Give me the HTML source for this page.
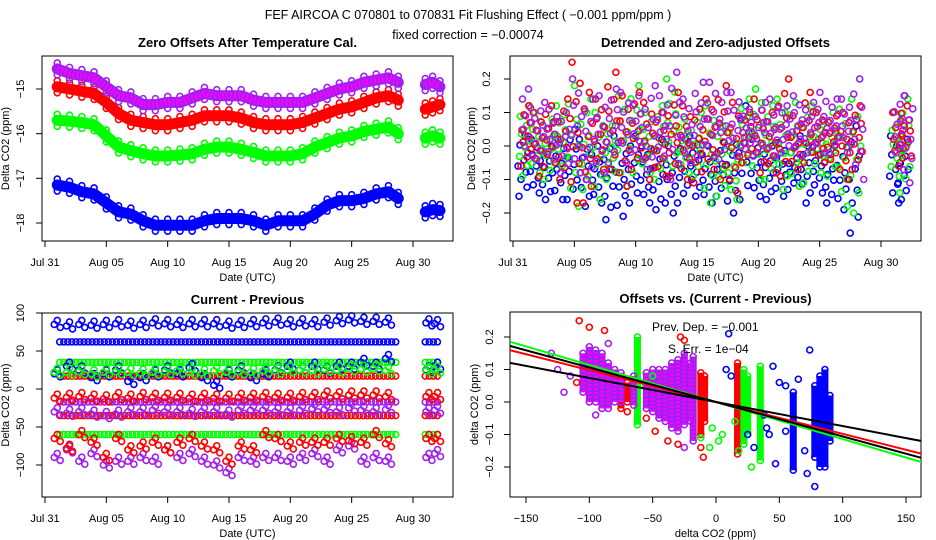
<!DOCTYPE html>
<html><head><meta charset="utf-8"><style>
html,body{margin:0;padding:0;background:#fff;}
svg{display:block;font-family:"Liberation Sans",sans-serif;}
.tl{font-size:11px;fill:#000;}
.pt{font-size:13px;font-weight:bold;fill:#000;}
</style></head><body>
<svg id="chart" width="936" height="540" viewBox="0 0 936 540" xmlns="http://www.w3.org/2000/svg">
<rect width="936" height="540" fill="#fff"/>
<text x="468" y="19" text-anchor="middle" font-size="12.5">FEF   AIRCOA C   070801 to 070831   Fit Flushing Effect ( −0.001 ppm/ppm )</text>
<text x="468" y="39" text-anchor="middle" font-size="12.5">fixed correction = −0.00074</text>
<g id="g1"></g>
<g id="g2"></g>
<g id="g3"></g>
<g id="g4"></g>
</svg>
<script>
// ---------- data ----------
const dateTicks = ["Jul 31","Aug 05","Aug 10","Aug 15","Aug 20","Aug 25","Aug 30"];
const dateTickDays = [0,5,10,15,20,25,30];
// Panel 1
const days1 = [1,2,3,4,5,6,7,8,9,10,11,12,13,14,15,16,17,18,19,20,21,22,23,24,25,26,27,28,28.8];
const daysGap1 = [31,31.6,32.2];
const purple1 = [-14.55,-14.65,-14.7,-14.75,-14.95,-15.15,-15.2,-15.35,-15.35,-15.3,-15.3,-15.2,-15.1,-15.15,-15.15,-15.15,-15.25,-15.3,-15.3,-15.3,-15.3,-15.2,-15.1,-15.0,-14.95,-14.85,-14.8,-14.75,-14.85];
const purple1b = [-14.9,-14.85,-14.95];
const red1 = [-14.95,-15.0,-15.05,-15.1,-15.3,-15.55,-15.7,-15.75,-15.8,-15.8,-15.75,-15.7,-15.6,-15.6,-15.6,-15.65,-15.75,-15.8,-15.8,-15.8,-15.75,-15.65,-15.55,-15.45,-15.4,-15.3,-15.2,-15.15,-15.25];
const red1b = [-15.45,-15.4,-15.35];
const green1 = [-15.7,-15.72,-15.75,-15.8,-16.05,-16.3,-16.38,-16.45,-16.5,-16.5,-16.48,-16.45,-16.35,-16.3,-16.3,-16.35,-16.42,-16.5,-16.5,-16.5,-16.45,-16.3,-16.2,-16.1,-16.05,-15.95,-15.9,-15.85,-16.0];
const green1b = [-16.1,-16.05,-16.1];
const blue1 = [-17.15,-17.2,-17.3,-17.35,-17.55,-17.75,-17.8,-17.95,-18.05,-18.05,-18.05,-18.05,-17.95,-17.9,-17.9,-17.9,-17.95,-18.05,-17.95,-17.95,-17.95,-17.8,-17.6,-17.5,-17.5,-17.45,-17.35,-17.3,-17.45];
const blue1b = [-17.75,-17.7,-17.72];
const yTicks1 = [-15,-16,-17,-18];
// Panel 2
const days2 = [1,2,3,4,5,6,7,8,9,10,11,12,13,14,15,16,17,18,19,20,21,22,23,24,25,26,27,28,31.3,32];
const blueHi2 = [0.03,0.02,0.0,0.02,0.05,0.02,0.0,0.03,0.01,0.03,0.0,0.02,0.0,0.02,0.03,0.0,0.01,0.04,0.12,0.02,0.0,0.01,0.0,0.03,0.02,0.0,0.03,0.06,0.03,0.02];
const blueLo2 = [-0.15,-0.14,-0.16,-0.16,-0.16,-0.18,-0.17,-0.22,-0.21,-0.17,-0.17,-0.19,-0.2,-0.17,-0.15,-0.17,-0.15,-0.2,-0.16,-0.15,-0.16,-0.15,-0.13,-0.17,-0.14,-0.17,-0.19,-0.26,-0.17,-0.16];
const greenHi2 = [0.12,0.1,0.08,0.12,0.18,0.14,0.1,0.06,0.15,0.18,0.1,0.12,0.2,0.08,0.1,0.12,0.06,0.04,0.14,0.17,0.12,0.14,0.13,0.12,0.1,0.1,0.11,0.2,0.1,0.14];
const greenLo2 = [-0.09,-0.08,-0.1,-0.06,-0.18,-0.13,-0.16,-0.1,-0.12,-0.08,-0.08,-0.1,-0.06,-0.08,-0.09,-0.17,-0.15,-0.16,-0.05,-0.1,-0.1,-0.13,-0.12,-0.11,-0.08,-0.09,-0.18,-0.2,-0.09,-0.14];
const redHi2 = [0.12,0.1,0.12,0.14,0.25,0.16,0.14,0.22,0.15,0.16,0.13,0.1,0.16,0.12,0.11,0.14,0.18,0.13,0.1,0.14,0.1,0.2,0.09,0.16,0.1,0.09,0.1,0.12,0.1,0.12];
const redLo2 = [-0.06,-0.09,-0.05,-0.1,-0.17,-0.17,-0.07,-0.07,-0.12,-0.07,-0.1,-0.09,-0.09,-0.1,-0.11,-0.07,-0.1,-0.14,-0.05,-0.08,-0.08,-0.09,-0.07,-0.05,-0.05,-0.04,-0.1,-0.07,-0.06,-0.03];
const purpleHi2 = [0.17,0.13,0.11,0.1,0.2,0.14,0.15,0.17,0.16,0.15,0.18,0.15,0.22,0.14,0.19,0.19,0.16,0.16,0.11,0.13,0.14,0.12,0.15,0.13,0.16,0.14,0.14,0.2,0.15,0.15];
const purpleLo2 = [-0.03,-0.04,-0.04,-0.08,-0.08,-0.1,-0.08,-0.05,-0.05,-0.04,-0.07,-0.03,-0.1,-0.05,-0.03,-0.03,-0.04,-0.03,-0.03,-0.02,-0.03,-0.02,-0.03,-0.02,-0.02,-0.02,-0.02,-0.1,-0.02,-0.11];
const yTicks2 = [0.2,0.1,0.0,-0.1,-0.2];
const yTickLabels2 = ["0.2","0.1","0.0","-0.1","-0.2"];
// Panel 3
const levelValues3 = [62,35,17,-17,-35,-60];
const levelColors3 = ["#0000ff","#00ff00","#ff0000","#a020f0","#ff0000","#00ff00"];
const blueTop3 = [85,83,85,84,85,86,84,85,87,86,85,86,86,86,84,85,86,87,88,86,87,86,88,90,91,89,89,88,87,86];
const blueMid3 = [20,30,25,15,20,25,10,15,20,25,20,28,15,5,20,25,15,20,25,30,25,30,25,30,30,35,30,40,25,30];
const greenMid3 = [22,22,23,20,22,23,22,21,22,23,24,22,21,24,22,23,22,24,24,25,25,24,26,25,27,26,27,24,24,25];
const redMid3 = [-12,-11,-10,-12,-13,-10,-12,-10,-11,-11,-11,-12,-11,-12,-12,-11,-11,-10,-11,-11,-10,-10,-8,-9,-8,-8,-8,-10,-10,-10];
const purpleMid3 = [-30,-32,-30,-33,-35,-33,-30,-30,-28,-30,-30,-32,-30,-30,-33,-28,-28,-28,-30,-30,-28,-26,-27,-30,-25,-28,-30,-27,-30,-28];
const redLow3 = [-65,-78,-60,-70,-90,-65,-80,-75,-70,-80,-70,-65,-75,-80,-95,-75,-80,-60,-65,-75,-70,-70,-70,-65,-68,-70,-60,-72,-65,-65];
const purpleLow3 = [-90,-80,-95,-85,-100,-95,-95,-90,-95,-80,-90,-85,-95,-100,-110,-90,-95,-90,-90,-95,-90,-85,-95,-80,-75,-95,-90,-95,-90,-85];
const yTicks3 = [100,50,0,-50,-100];
// Panel 4
const xTicks4 = [-150,-100,-50,0,50,100,150];
const yTicks4 = [0.2,0.1,0.0,-0.1,-0.2];
const barX4 = [-75,-70,-62,-12,-9,-18,17,22,25,35,61,78,82,86,90,-105,-100,-95,-90,-85,-80,-75,-65,-55,-50,-45,-40,-35,-30,-25,-20];
const barLo4 = [-0.02,0.0,-0.07,-0.1,-0.06,-0.12,-0.16,-0.13,-0.1,-0.18,-0.21,-0.17,-0.2,-0.2,-0.12,0.03,0.0,0.0,-0.02,-0.02,0.0,0.0,-0.01,-0.02,-0.03,-0.05,-0.06,-0.08,-0.09,-0.07,-0.06];
const barHi4 = [0.07,0.06,0.2,0.09,0.08,0.14,0.12,0.1,0.08,0.11,0.03,0.05,0.08,0.1,0.02,0.15,0.17,0.16,0.15,0.12,0.1,0.09,0.08,0.09,0.1,0.1,0.1,0.12,0.13,0.15,0.12];
const barColor4 = ["#ff0000","#ff0000","#00ff00","#ff0000","#ff0000","#a020f0","#ff0000","#00ff00","#00ff00","#00ff00","#0000ff","#0000ff","#0000ff","#0000ff","#0000ff","#a020f0","#a020f0","#a020f0","#a020f0","#a020f0","#a020f0","#a020f0","#a020f0","#a020f0","#a020f0","#a020f0","#a020f0","#a020f0","#a020f0","#a020f0","#a020f0"];
const ptX4 = [8,12,25,30,40,45,50,47,55,65,70,72,74,78,10,5,38,42,15,55,-108,-100,-88,-70,-48,-38,-25,-12,-10,-12,-5,2,-3,-130,-125,-120,-115,-110,-105,-60,-55,-50,-45,-30,-25,-85,-95,-28,18,28];
const ptY4 = [0.1,0.08,-0.1,-0.14,-0.08,0.11,0.06,-0.19,0.05,0.07,-0.15,-0.22,0.16,-0.26,0.21,-0.1,-0.04,-0.1,-0.06,-0.09,0.25,0.23,0.22,-0.03,-0.09,-0.12,0.19,-0.14,-0.17,-0.11,-0.14,-0.12,-0.08,0.15,0.1,0.03,0.08,0.06,0.1,0.05,-0.05,0.08,-0.04,-0.13,-0.14,0.18,-0.04,0.2,-0.15,-0.2];
const ptC4 = ["#0000ff","#0000ff","#0000ff","#0000ff","#0000ff","#0000ff","#0000ff","#0000ff","#0000ff","#0000ff","#0000ff","#0000ff","#0000ff","#0000ff","#0000ff","#00ff00","#0000ff","#0000ff","#00ff00","#0000ff","#ff0000","#ff0000","#ff0000","#ff0000","#ff0000","#ff0000","#ff0000","#ff0000","#ff0000","#00ff00","#00ff00","#00ff00","#00ff00","#a020f0","#a020f0","#a020f0","#a020f0","#ff0000","#a020f0","#00ff00","#ff0000","#00ff00","#a020f0","#ff0000","#a020f0","#a020f0","#a020f0","#ff0000","#00ff00","#00ff00"];
const fitIntercept4 = [0.0,0.0,0.0,0.0];
const fitSlope4 = [-0.00114,-0.00098,-0.00106,-0.00074];
const fitColor4 = ["#00ff00","#ff0000","#000000","#000000"];

// ---------- helpers ----------
const NS = "http://www.w3.org/2000/svg";
function mk(parent, tag, attrs) {
  const e = document.createElementNS(NS, tag);
  for (const k in attrs) e.setAttribute(k, attrs[k]);
  parent.appendChild(e);
  return e;
}
function lin(d0, d1, r0, r1) { return v => r0 + (v - d0) * (r1 - r0) / (d1 - d0); }
function circ(g, x, y, c) {
  const e = mk(g, "circle", {cx: x, cy: y, r: 3, fill: "none", stroke: c, "stroke-width": 1.6});
  
  
}
function frame(g, box, title, xlab, ylab, yTicks, yLabels, sy, xTicks, xLabels, sx, ylx) {
  const [L, T, R, B] = box;
  const r = mk(g, "rect", {x: L, y: T, width: R - L, height: B - T, fill: "none", stroke: "#000", "stroke-width": 1});
  
  
  const t = mk(g, "text", {x: (L + R) / 2, y: T - 9, "text-anchor": "middle", class: "pt"});
  t.textContent = title;
  
  
  const xa = mk(g, "g", {});
  
  
  mk(xa, "line", {x1: sx(xTicks[0]), x2: sx(xTicks[xTicks.length - 1]), y1: B, y2: B, stroke: "#000"});
  xTicks.forEach((v, i) => {
    const x = sx(v);
    mk(xa, "line", {x1: x, x2: x, y1: B, y2: B + 6, stroke: "#000"});
    const tx = mk(xa, "text", {x: x, y: B + 25, "text-anchor": "middle", class: "tl"});
    tx.textContent = xLabels[i];
    
    
  });
  const xl = mk(g, "text", {x: (L + R) / 2, y: B + 40, "text-anchor": "middle", class: "tl"});
  xl.textContent = xlab;
  
  
  const ya = mk(g, "g", {});
  
  
  mk(ya, "line", {x1: L, x2: L, y1: sy(yTicks[0]), y2: sy(yTicks[yTicks.length - 1]), stroke: "#000"});
  yTicks.forEach((v, i) => {
    const y = sy(v);
    mk(ya, "line", {x1: L - 6, x2: L, y1: y, y2: y, stroke: "#000"});
    const tx = mk(ya, "text", {x: ylx + 4, y: y, "text-anchor": "middle", class: "tl", transform: `rotate(-90 ${ylx + 4} ${y})`});
    tx.textContent = yLabels[i];
    
    
  });
  const yl = mk(g, "text", {x: ylx - 11, y: (T + B) / 2, "text-anchor": "middle", class: "tl", transform: `rotate(-90 ${ylx - 11} ${(T + B) / 2})`});
  yl.textContent = ylab;
  
  
}
function minus(a) { return a.map(v => String(v).replace("-", "\u2212")); }

// ---------- Panel 1 ----------
(function () {
  const g = document.getElementById("g1");
  const sx = lin(0, 30, 45, 413), sy = lin(-15, -18, 89, 223);
  frame(g, [42, 56, 453, 241], "Zero Offsets After Temperature Cal.", "Date (UTC)", "Delta CO2 (ppm)",
    yTicks1, minus(yTicks1), sy, dateTickDays, dateTicks, sx, 20);
  const series = [[blue1, blue1b, "#0000ff"], [green1, green1b, "#00ff00"], [red1, red1b, "#ff0000"], [purple1, purple1b, "#a020f0"]];
  series.forEach(([a, b, c]) => {
    const sg = mk(g, "g", {});
    
    
    [[days1, a], [daysGap1, b]].forEach(([dd, vv]) => {
      const pts = dd.map((d, i) => sx(d) + "," + sy(vv[i])).join(" ");
      mk(sg, "polyline", {points: pts, fill: "none", stroke: c, "stroke-width": 11, "stroke-linejoin": "round", "stroke-linecap": "round"});
      dd.forEach((d, i) => { circ(sg, sx(d), sy(vv[i]) - 6, c); circ(sg, sx(d), sy(vv[i]) + 6, c); });
    });
    if (c === "#a020f0") {
      [[days1, a], [daysGap1, b]].forEach(([dd, vv]) => {
        const pts = dd.map((d, i) => sx(d) + "," + sy(vv[i])).join(" ");
        mk(sg, "polyline", {points: pts, fill: "none", stroke: "#ff00ff", "stroke-width": 7, "stroke-dasharray": "2 2", "stroke-linejoin": "round"});
      });
    }
  });
})();

// ---------- Panel 2 ----------
(function () {
  const g = document.getElementById("g2");
  const sx = lin(0, 30, 513, 881), sy = lin(0, 0.2, 146, 79);
  frame(g, [510, 56, 921, 241], "Detrended and Zero-adjusted Offsets", "Date (UTC)", "Delta CO2 (ppm)",
    yTicks2, minus(yTickLabels2), sy, dateTickDays, dateTicks, sx, 486);
  const fr = [0, 0.15, 0.28, 0.4, 0.5, 0.6, 0.72, 0.85, 1];
  const off = [-4, 4, -2, 3, -5, 1, 5, -3, 2];
  const series = [[blueHi2, blueLo2, "#0000ff"], [greenHi2, greenLo2, "#00ff00"], [redHi2, redLo2, "#ff0000"], [purpleHi2, purpleLo2, "#a020f0"]];
  series.forEach(([hi, lo, c], si) => {
    const sg = mk(g, "g", {});
    
    
    days2.forEach((d, i) => {
      const x = sx(d) + (si - 1.5) * 1.5;
      fr.forEach((f, k) => {
        const v = lo[i] + (hi[i] - lo[i]) * f;
        circ(sg, x + off[(k + si * 2 + i) % off.length], sy(v), c);
      });
    });
  });
})();

// ---------- Panel 3 ----------
(function () {
  const g = document.getElementById("g3");
  const sx = lin(0, 30, 45, 413), sy = lin(0, 100, 389, 313);
  frame(g, [42, 313, 453, 497], "Current - Previous", "Date (UTC)", "Delta CO2 (ppm)",
    yTicks3, minus(yTicks3), sy, dateTickDays, dateTicks, sx, 20);
  const clusters = [[purpleLow3, "#a020f0"], [redLow3, "#ff0000"], [blueMid3, "#0000ff"], [blueTop3, "#0000ff"], [greenMid3, "#00ff00"], [redMid3, "#ff0000"], [purpleMid3, "#a020f0"]];
  levelValues3.forEach((v, li) => {
    const lg = mk(g, "g", {});
    
    
    [[1.2, 28.8], [31, 32.2]].forEach(([a, b]) => {
      for (let d = a; d <= b + 0.01; d += 0.33) circ(lg, sx(d), sy(v), levelColors3[li]);
    });
  });
  clusters.forEach(([arr, c]) => {
    const cg = mk(g, "g", {});
    
    
    days2.forEach((d, i) => {
      circ(cg, sx(d) - 3, sy(arr[i]), c);
      circ(cg, sx(d) + 3, sy(arr[i]) + 3, c);
      circ(cg, sx(d), sy(arr[i]) - 4, c);
    });
  });
})();

// ---------- Panel 4 ----------
(function () {
  const g = document.getElementById("g4");
  const sx = lin(0, 150, 716, 906), sy = lin(0, 0.2, 402, 337);
  frame(g, [510, 312, 921, 497], "Offsets vs. (Current - Previous)", "delta CO2 (ppm)", "delta CO2 (ppm)",
    yTicks4, minus(yTicks4.map(v => v.toFixed(1))), sy, xTicks4, minus(xTicks4), sx, 489);
  const bg = mk(g, "g", {});
  
  
  barX4.forEach((x, i) => {
    const c = barColor4[i];
    mk(bg, "line", {x1: sx(x), x2: sx(x), y1: sy(barLo4[i]), y2: sy(barHi4[i]), stroke: c, "stroke-width": 7});
    circ(bg, sx(x), sy(barLo4[i]), c);
    circ(bg, sx(x), sy(barHi4[i]), c);
    if (c === "#a020f0") mk(bg, "line", {x1: sx(x), x2: sx(x), y1: sy(barLo4[i]), y2: sy(barHi4[i]), stroke: "#ff00ff", "stroke-width": 4, "stroke-dasharray": "2 2"});
  });
  const pg = mk(g, "g", {});
  
  
  ptX4.forEach((x, i) => circ(pg, sx(x), sy(ptY4[i]), ptC4[i]));
  const cp = mk(g, "clipPath", {id: "c4"});
  mk(cp, "rect", {x: 510, y: 312, width: 411, height: 185});
  fitSlope4.forEach((s, i) => {
    const l = mk(g, "line", {x1: sx(-170), y1: sy(fitIntercept4[i] + s * -170), x2: sx(170), y2: sy(fitIntercept4[i] + s * 170), stroke: fitColor4[i], "stroke-width": 2, "clip-path": "url(#c4)"});
    
    
  });
  const t1 = mk(g, "text", {x: 652, y: 331, "font-size": 12});
  t1.textContent = "Prev. Dep. =  \u22120.001";
  
  
  const t2 = mk(g, "text", {x: 668, y: 353, "font-size": 12});
  t2.textContent = "S. Err. = 1e\u221204";
  
  
})();
</script>
</body></html>
